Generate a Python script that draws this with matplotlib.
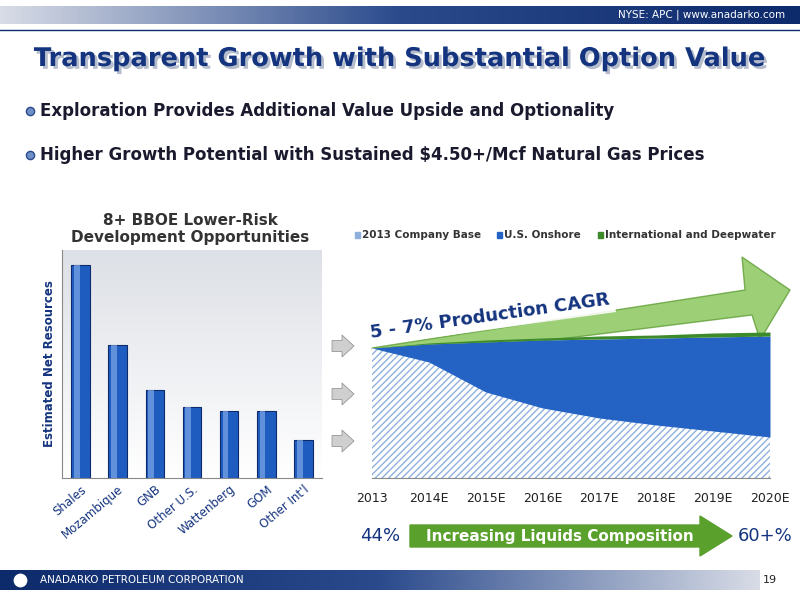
import matplotlib
matplotlib.use("Agg")
import matplotlib.pyplot as plt
import matplotlib.patheffects as pe
import numpy as np
from matplotlib.patches import Rectangle, FancyArrow, Polygon

categories = ["Shales", "Mozambique", "GNB", "Other U.S.", "Wattenberg", "GOM", "Other Int'l"]
resources = [213, 133, 88, 71, 67, 67, 38]

years = ["2013", "2014E", "2015E", "2016E", "2017E", "2018E", "2019E", "2020E"]
company_base = [130, 116, 86, 70, 60, 53, 47, 41]
us_onshore = [0, 18, 50, 68, 79, 87, 94, 101]
intl_deep = [0, 1, 2, 2, 3, 3, 4, 4]

fig = plt.figure(figsize=(8, 6), dpi=100)
bg = fig.add_axes([0, 0, 1, 1])
bg.set_xlim(0, 800); bg.set_ylim(600, 0); bg.axis("off")

# top bar
grad = np.linspace(0, 1, 256).reshape(1, -1)
bg.imshow(grad, extent=(0, 800, 24, 6), cmap=matplotlib.colors.LinearSegmentedColormap.from_list("t", ["#d8dce6", "#2a4a8c", "#0d2a6b"]), aspect="auto", zorder=0)
bg.text(785, 15, "NYSE: APC | www.anadarko.com", color="white", fontsize=7.5, ha="right", va="center")
bg.plot([0, 800], [30, 30], color="#0d2a6b", lw=1)
# title
bg.text(400, 59, "Transparent Growth with Substantial Option Value", fontsize=18.5, fontweight="bold",
        color="#14347f", ha="center", va="center",
        path_effects=[pe.SimplePatchShadow(offset=(2, -2), shadow_rgbFace="#b5bccb", alpha=1), pe.Normal()])
# bullets
for y, t in [(111, "Exploration Provides Additional Value Upside and Optionality"),
             (155, "Higher Growth Potential with Sustained $4.50+/Mcf Natural Gas Prices")]:
    bg.scatter([30], [y], s=35, color="#6f8fc7", edgecolor="#2a4a8c", zorder=3)
    bg.text(40, y, t, fontsize=12, fontweight="bold", color="#1a1a2e", va="center")

# left bar chart
ax1 = fig.add_axes([62/800, (600-478)/600, 260/800, 228/600])
ax1.imshow(np.linspace(1, 0, 256).reshape(-1, 1), extent=(-0.5, 6.5, 0, 228),
           cmap=matplotlib.colors.LinearSegmentedColormap.from_list("g", ["#ffffff", "#dde0e6"]), aspect="auto", zorder=0)
x = np.arange(len(categories))
ax1.bar(x, resources, width=0.5, color="#1f5cc0", edgecolor="#0d2a6b", linewidth=0.8, zorder=2)
ax1.bar(x - 0.1, resources, width=0.15, color="#7fa8e8", linewidth=0, zorder=3, alpha=0.7)
ax1.set_xlim(-0.5, 6.5); ax1.set_ylim(0, 228)
ax1.set_yticks([])
ax1.set_xticks(x)
ax1.set_xticklabels(categories, rotation=40, ha="right", rotation_mode="anchor", fontsize=8.5, color="#14347f")
ax1.tick_params(axis="x", length=0)
for s in ["top", "right"]:
    ax1.spines[s].set_visible(False)
ax1.spines["left"].set_color("#888888"); ax1.spines["bottom"].set_color("#888888")
ax1.set_ylabel("Estimated Net Resources", fontsize=8.5, fontweight="bold", color="#14347f")
bg.text(190, 229, "8+ BBOE Lower-Risk\nDevelopment Opportunities", fontsize=11, fontweight="bold",
        color="#333333", ha="center", va="center", linespacing=1.2)

# right area chart
ax2 = fig.add_axes([372/800, (600-478)/600, 398/800, 178/600])
xi = np.arange(len(years))
b = np.array(company_base); o = np.array(us_onshore); g = np.array(intl_deep)
ax2.fill_between(xi, 0, b, facecolor="white", edgecolor="#8fb0dc", hatch="/////", linewidth=0)
ax2.fill_between(xi, b, b + o, color="#2463c4", linewidth=0)
ax2.fill_between(xi, b + o, b + o + g, color="#3c8a2a", linewidth=0)
ax2.set_xlim(0, 7); ax2.set_ylim(0, 178)
ax2.set_yticks([])
ax2.set_xticks(xi); ax2.set_xticklabels(years, fontsize=9, color="#222222")
ax2.tick_params(axis="x", length=0, pad=10)
for s in ["top", "right", "left"]:
    ax2.spines[s].set_visible(False)
ax2.spines["bottom"].set_color("#888888")
ax2.patch.set_alpha(0)

# legend
for lx, lab, col in [(355, "2013 Company Base", "#8fb0dc"), (497, "U.S. Onshore", "#2463c4"),
                     (598, "International and Deepwater", "#3c8a2a")]:
    bg.add_patch(Rectangle((lx, 232), 5, 6, color=col))
    bg.text(lx + 7, 235, lab, fontsize=7.5, fontweight="bold", color="#333333", va="center")

# grey arrows
for y in [346, 394, 441]:
    bg.add_patch(FancyArrow(332, y, 10, 0, width=11, head_width=22, head_length=12,
                            color="#cfcfcf", ec="#888888", lw=0.5, length_includes_head=False))

# green CAGR arrow
bg.add_patch(Polygon([(372, 348), (745, 290), (742, 257), (790, 290), (760, 340), (752, 315), (376, 362)],
                     closed=True, facecolor="#7cc04a", edgecolor="#5a9a2f", alpha=0.75, lw=1))
bg.add_patch(Polygon([(368, 320), (612, 286), (616, 312), (372, 346)], closed=True,
                     facecolor="white", edgecolor="none", alpha=0.9))
bg.text(490, 316, "5 - 7% Production CAGR", fontsize=13, fontweight="bold", color="#14347f",
        rotation=8, ha="center", va="center")

# liquids arrow
bg.text(380, 536, "44%", fontsize=13, color="#14347f", ha="center", va="center")
bg.add_patch(FancyArrow(410, 536, 290, 0, width=22, head_width=40, head_length=32,
                        color="#5aa02c", length_includes_head=False))
bg.text(560, 536, "Increasing Liquids Composition", fontsize=11, fontweight="bold", color="white",
        ha="center", va="center")
bg.text(765, 536, "60+%", fontsize=13, color="#14347f", ha="center", va="center")

# footer
bg.imshow(np.linspace(0, 1, 256).reshape(1, -1), extent=(0, 760, 590, 570),
          cmap=matplotlib.colors.LinearSegmentedColormap.from_list("f", ["#0d2a6b", "#2a4a8c", "#d8dce6"]), aspect="auto", zorder=0)
bg.scatter([20], [580], s=120, color="white", edgecolor="#0d2a6b", zorder=3)
bg.text(40, 580, "ANADARKO PETROLEUM CORPORATION", fontsize=7.5, color="white", va="center")
bg.text(770, 580, "19", fontsize=8, color="#222222", va="center", ha="center")
bg.set_xlim(0, 800); bg.set_ylim(600, 0)

fig.savefig("out.png", dpi=100)
